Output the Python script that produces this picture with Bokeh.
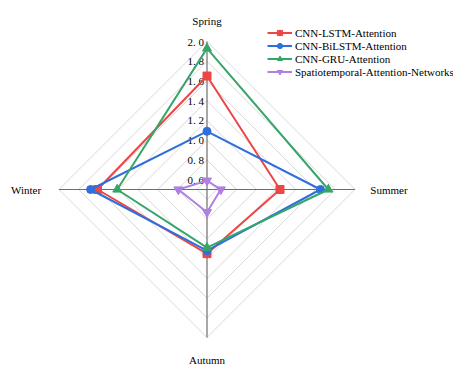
import numpy as np
from bokeh.plotting import figure
from bokeh.models import Range1d, Legend, LegendItem
from bokeh.core.properties import value
from bokeh.embed import file_html
from bokeh.resources import INLINE

categories = ["Spring", "Summer", "Autumn", "Winter"]
series_names = ["CNN-LSTM-Attention", "CNN-BiLSTM-Attention", "CNN-GRU-Attention",
                "Spatiotemporal-Attention-Networks"]
lstm_vals = [1.65, 1.24, 1.15, 1.61]
bilstm_vals = [1.09, 1.65, 1.12, 1.68]
gru_vals = [1.93, 1.73, 1.09, 1.41]
sat_vals = [0.59, 0.64, 0.73, 0.79]
tick_values = [0.6, 0.8, 1.0, 1.2, 1.4, 1.6, 1.8, 2.0]
tick_labels = ["0. 6", "0. 8", "1. 0", "1. 2", "1. 4", "1. 6", "1. 8", "2. 0"]
r_min, r_max = 0.5, 2.0

colors = ["#EE4545", "#2E6FDD", "#36A56A", "#B07FE3"]
markers = ["square", "circle", "triangle", "inverted_triangle"]
marker_sizes = [8, 8, 9, 9]

W, H = 453, 371
cx, cy = 206.5, 189.0   # chart centre in figure pixels (from left, from top)
R = 148.0
FONT = "Liberation Serif"

p = figure(width=W, height=H, output_backend="svg", toolbar_location=None,
           x_range=Range1d(-cx, W - cx), y_range=Range1d(-(H - cy), cy),
           min_border=0, min_border_left=0, min_border_right=0,
           min_border_top=0, min_border_bottom=0)
p.axis.visible = False
p.grid.visible = False
p.outline_line_color = None

n = len(categories)
angles = [np.pi / 2 - i * 2 * np.pi / n for i in range(n)]


def to_xy(vals):
    xs, ys = [], []
    for v, a in zip(vals, angles):
        r = (v - r_min) / (r_max - r_min) * R
        xs.append(r * np.cos(a))
        ys.append(r * np.sin(a))
    return xs, ys


# grid rings
ring_xs, ring_ys = [], []
for t in tick_values:
    xs, ys = to_xy([t] * n)
    ring_xs.append(xs + [xs[0]])
    ring_ys.append(ys + [ys[0]])
p.multi_line(ring_xs, ring_ys, line_color="#D9D9D9", line_width=1)

# spokes
for a in angles:
    p.line([0, R * np.cos(a)], [0, R * np.sin(a)], line_color="#6E6E6E", line_width=1.2)

# tick labels along the Spring axis
tx = [0.0] * len(tick_values)
ty = [(t - r_min) / (r_max - r_min) * R for t in tick_values]
p.text([x - 3 for x in tx], ty, text=tick_labels, text_font=value(FONT),
       text_font_size="11px", text_color="#000000", text_align="right",
       text_baseline="middle")

# category labels
lab_r = R + 21
lab_x = [lab_r * np.cos(a) for a in angles]
lab_y = [lab_r * np.sin(a) for a in angles]
lab_x[1] += 13
lab_x[3] -= 12
lab_y[2] -= 1
p.text(lab_x, lab_y, text=categories, text_font=value(FONT), text_font_size="11px",
       text_color="#000000", text_align="center", text_baseline="middle")

items = []
for name, vals, col, mk, ms in zip(series_names, [lstm_vals, bilstm_vals, gru_vals, sat_vals],
                                   colors, markers, marker_sizes):
    xs, ys = to_xy(vals)
    lr = p.line(xs + [xs[0]], ys + [ys[0]], line_color=col, line_width=2)
    sr = p.scatter(xs, ys, marker=mk, size=ms, fill_color=col, line_color=col)
    items.append(LegendItem(label=name, renderers=[lr, sr]))

legend = Legend(items=items, location=(267, H - 26 - 52), orientation="vertical",
                label_text_font=FONT, label_text_font_size="11px",
                label_text_color="#000000", glyph_width=25, glyph_height=13,
                label_height=13, label_standoff=3, spacing=0, padding=0, margin=0,
                border_line_color=None, background_fill_alpha=0)
p.add_layout(legend, "center")

open("out.html", "w").write(file_html(p, INLINE))
